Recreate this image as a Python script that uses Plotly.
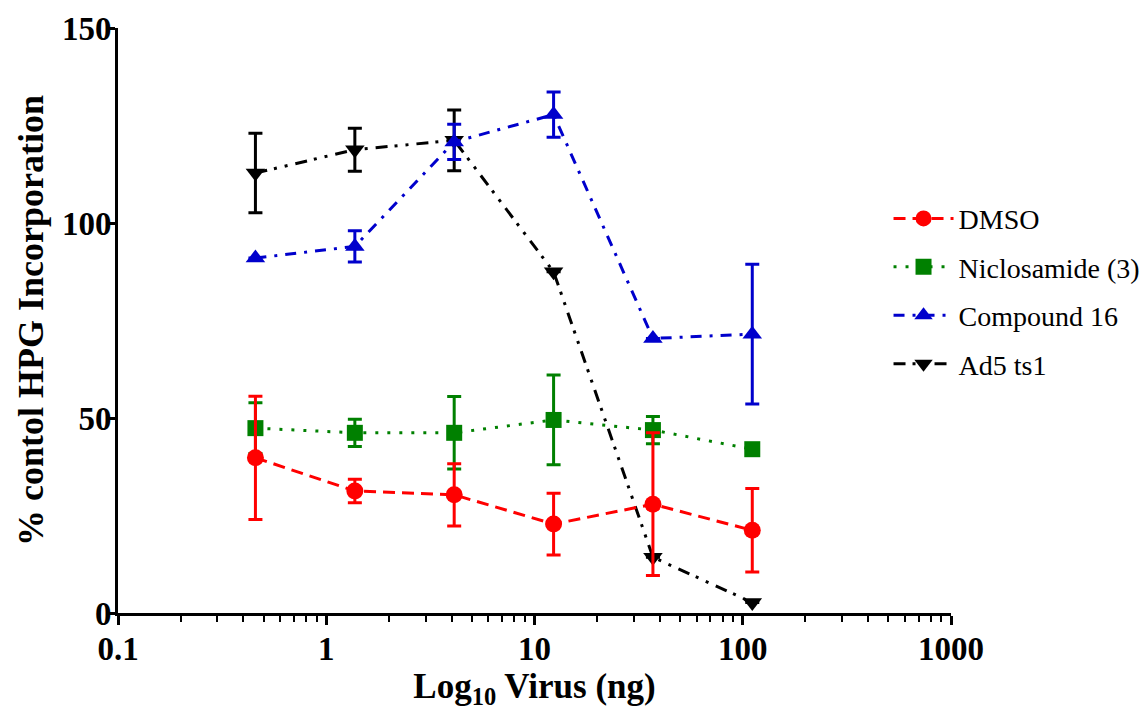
import plotly.graph_objects as go

# Virus amount (ng), 3-fold dilutions
virus_ng = [0.457, 1.372, 4.115, 12.35, 37.04, 111.1]

series_names = ["DMSO", "Niclosamide (3)", "Compound 16", "Ad5 ts1"]

dmso_mean = [39.8, 31.3, 30.3, 22.8, 27.9, 21.2]
dmso_err = [15.8, 3.0, 8.0, 7.9, 18.3, 10.7]

niclo_mean = [47.4, 46.2, 46.2, 49.5, 46.9, 42.0]
niclo_err = [6.5, 3.5, 9.3, 11.5, 3.5, 0.0]

cmpd16_mean = [91.0, 94.0, 120.8, 127.8, 70.4, 71.5]
cmpd16_err = [0.0, 4.0, 4.5, 5.8, 0.0, 17.9]

ad5_mean = [112.8, 118.8, 121.2, 87.5, 14.3, 2.7]
ad5_err = [10.2, 5.5, 7.8, 0.0, 0.0, 0.0]

y_ticks = [0, 50, 100, 150]
x_tickvals = [0.1, 1, 10, 100, 1000]
x_ticktext = ["0.1", "1", "10", "100", "1000"]

styles = {
    "DMSO": dict(color="#FF0000", dash="12px,7px", symbol="circle", size=17),
    "Niclosamide (3)": dict(color="#008000", dash="3px,9px", symbol="square", size=16),
    "Compound 16": dict(color="#0000CC", dash="11px,8px,3px,8px", symbol="triangle-up", size=17),
    "Ad5 ts1": dict(color="#000000", dash="12px,7px,3px,8px,3px,8px", symbol="triangle-down", size=17),
}

data = {
    "DMSO": (dmso_mean, dmso_err),
    "Niclosamide (3)": (niclo_mean, niclo_err),
    "Compound 16": (cmpd16_mean, cmpd16_err),
    "Ad5 ts1": (ad5_mean, ad5_err),
}

fig = go.Figure()
# draw in reverse so that earlier series sit on top
for name in reversed(series_names):
    mean, err = data[name]
    st = styles[name]
    fig.add_trace(go.Scatter(
        x=virus_ng, y=mean, name=name, legendgroup=name,
        legendrank=series_names.index(name) + 1,
        mode="lines+markers",
        line=dict(color=st["color"], width=3, dash=st["dash"]),
        marker=dict(symbol=st["symbol"], size=st["size"], color=st["color"]),
        error_y=dict(type="data", array=err, visible=True, color=st["color"],
                     thickness=3, width=7),
    ))

font_family = "Liberation Serif, Times New Roman, serif"

fig.update_layout(
    width=1140, height=703,
    margin=dict(l=110, r=197, t=20, b=98, autoexpand=False),
    paper_bgcolor="white", plot_bgcolor="white",
    font=dict(family=font_family, color="black"),
    showlegend=True,
    legend=dict(
        x=0.925, xanchor="left", y=0.55, yanchor="middle",
        traceorder="grouped", tracegroupgap=9,
        font=dict(family=font_family, size=28, color="black"),
        itemwidth=60, bgcolor="rgba(0,0,0,0)",
    ),
)

fig.update_xaxes(
    type="log", range=[-1, 3],
    tickvals=x_tickvals, ticktext=x_ticktext,
    ticks="outside", ticklen=9, tickwidth=3, tickcolor="black",
    ticklabelstandoff=-5,
    minor=dict(ticks="outside", ticklen=6, tickwidth=2, tickcolor="black", dtick="D1"),
    showline=True, linecolor="black", linewidth=3,
    showgrid=False, zeroline=False,
    tickfont=dict(family=font_family, size=33, color="black", weight="bold"),
    title=dict(text="Log<sub>10</sub> Virus (ng)", standoff=2,
               font=dict(family=font_family, size=35, color="black", weight="bold")),
)

fig.update_yaxes(
    range=[0, 150], tickvals=y_ticks,
    ticks="outside", ticklen=9, tickwidth=3, tickcolor="black",
    ticklabelstandoff=-12,
    showline=True, linecolor="black", linewidth=3,
    showgrid=False, zeroline=False,
    tickfont=dict(family=font_family, size=33, color="black", weight="bold"),
    title=dict(text="% contol HPG Incorporation", standoff=8,
               font=dict(family=font_family, size=36, color="black", weight="bold")),
)

fig.write_html("out.html")
